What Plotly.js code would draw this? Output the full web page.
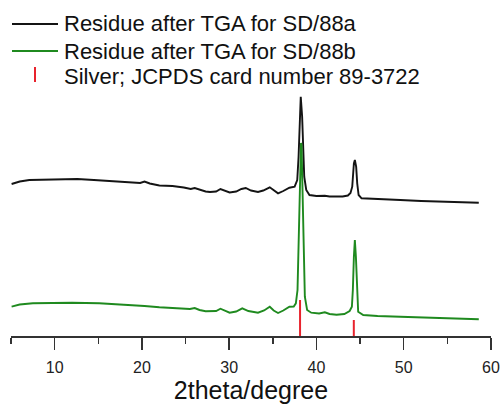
<!DOCTYPE html>
<html>
<head>
<meta charset="utf-8">
<script src="https://cdn.plot.ly/plotly-3.0.1.min.js"></script>
<style>
html,body{margin:0;padding:0;background:#fff;}
#chart{width:501px;height:409px;}
</style>
</head>
<body>
<div id="chart"></div>
<script>
// 2theta (degree) and intensity (a.u., curves offset as drawn)
const thetaA = [5.07,6.0,7.1,9.0,11.0,12.6,14.5,16.5,18.5,19.8,20.3,20.9,22.0,23.5,24.8,25.6,26.05,26.6,27.3,27.8,28.5,29.0,29.5,30.05,30.8,31.4,31.9,32.5,33.3,33.9,34.65,35.1,35.6,36.2,36.9,37.5,37.8,37.95,38.06,38.2,38.36,38.47,38.6,38.83,39.2,40.0,40.96,41.5,42.3,43.0,43.6,43.9,44.1,44.2,44.29,44.4,44.55,44.67,44.83,45.17,46.5,48.0,49.6,52.0,55.0,58.6];
const intensA = [152,154.5,156,156.5,157,157,156,155,153.5,153,154.5,152.5,150.5,150,148.5,147,148,146.5,144.5,144,144.5,147,145,143.5,144.5,147,148,145.5,144,145.5,148.7,145.5,142.7,145,148.3,149.3,156,179,212.7,239.3,219.3,186,159.3,146,141,140,140.3,139.5,139.3,139.5,140.5,143,149.3,162.7,172.7,176,169.3,152.7,141,137.7,137,136.5,136,135,134,133.3];

const thetaB = [5.07,6.0,7.5,9.4,12.0,15.1,18.0,20.3,22.0,24.0,25.5,26.05,26.6,27.3,27.8,28.5,29.0,29.5,30.05,30.8,31.5,32.2,33.3,34.0,34.65,35.1,35.6,36.2,36.9,37.4,37.64,37.83,37.95,38.06,38.17,38.23,38.29,38.4,38.52,38.67,38.93,39.4,40.3,40.96,41.5,42.3,43.2,43.8,44.06,44.17,44.29,44.4,44.52,44.63,44.78,45.36,47.0,49.6,52.0,55.0,58.6];
const intensB = [29.3,31.5,32.8,33.3,33.3,32.7,31.5,30,28.7,28,27,28,26,24.7,24.7,25,27.3,25,23.3,24.5,27.7,25,23.3,25.5,29.3,25.5,23,25.5,29.3,29.5,32.7,46,96,146,191,193,191,146,79.3,39.3,26,23.3,22.5,23.7,22,21.3,22,25,29.3,46,79.3,96,79.3,46,24.3,21,20,19.3,18.5,17.5,16.7];

// Silver reference lines (JCPDS 89-3722)
const refTheta = [38.12, 44.28];
const refHeight = [36, 16];

const legendNames = [
  "Residue after TGA for SD/88a",
  "Residue after TGA for SD/88b",
  "Silver; JCPDS card number 89-3722"
];
const colors = ["#141414", "#1f8a1f", "#e8232d"];

const refX = [], refY = [];
refTheta.forEach((t, i) => { refX.push(t, t, null); refY.push(0, refHeight[i], null); });

const traces = [
  {x: thetaA, y: intensA, mode: "lines", name: legendNames[0], line: {color: colors[0], width: 1.9}},
  {x: thetaB, y: intensB, mode: "lines", name: legendNames[1], line: {color: colors[1], width: 1.9}},
  {x: refX, y: refY, mode: "lines", name: legendNames[2], line: {color: colors[2], width: 2}}
];

// custom legend positioned in pixels
const W = 501, L = 11, R = 10, T = 0, B = 73;
const pw = W - L - R, ph = 409 - T - B;
const px = v => (v - L) / pw;
const py = v => (ph + T - v) / ph;

const shapes = [
  {type: "line", xref: "paper", yref: "paper", x0: px(12), x1: px(58), y0: py(24), y1: py(24), line: {color: colors[0], width: 1.8}},
  {type: "line", xref: "paper", yref: "paper", x0: px(12), x1: px(58), y0: py(51), y1: py(51), line: {color: colors[1], width: 1.8}},
  {type: "line", xref: "paper", yref: "paper", x0: px(35), x1: px(35), y0: py(67), y1: py(82), line: {color: colors[2], width: 2}}
];
const rowsY = [24, 51, 77];
const annotations = legendNames.map((n, i) => ({
  text: n, xref: "paper", yref: "paper", x: px(62), y: py(rowsY[i]),
  xanchor: "left", yanchor: "middle", showarrow: false,
  font: {family: "Liberation Sans, Arial, sans-serif", size: 22, color: "#111"}
}));

const layout = {
  width: 501, height: 409,
  margin: {l: L, r: R, t: T, b: B, pad: 0},
  paper_bgcolor: "#fff", plot_bgcolor: "#fff",
  showlegend: false,
  font: {family: "Liberation Sans, Arial, sans-serif", color: "#222"},
  xaxis: {
    range: [5, 60], tick0: 0, dtick: 10, ticks: "outside", ticklen: 12, tickwidth: 1.5, tickcolor: "#333",
    showline: true, linecolor: "#333", linewidth: 1.5, showgrid: false, zeroline: false,
    tickfont: {size: 16, color: "#222"}, ticklabelstandoff: 4,
    minor: {dtick: 5, tick0: 0, ticks: "outside", ticklen: 6, tickwidth: 1.5, tickcolor: "#333", showgrid: false},
    title: {text: "2theta/degree", font: {size: 25, color: "#111"}, standoff: 7}
  },
  yaxis: {range: [0, ph], visible: false, fixedrange: true},
  shapes: shapes,
  annotations: annotations
};

Plotly.newPlot("chart", traces, layout, {displayModeBar: false, staticPlot: true});
</script>
</body>
</html>
